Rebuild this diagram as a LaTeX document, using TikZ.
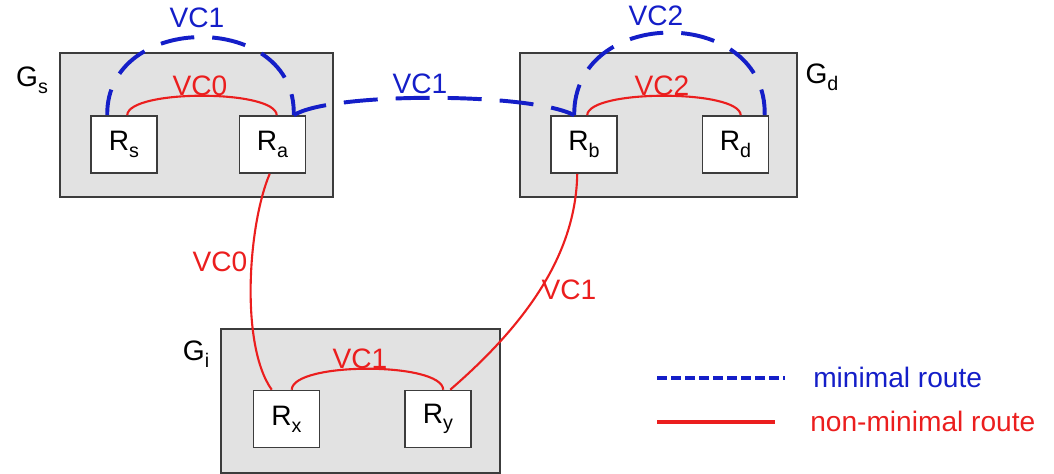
\documentclass[tikz,border=0pt]{standalone}
\usepackage{fontspec}
\setmainfont{Liberation Sans}
\usetikzlibrary{calc}
\definecolor{grpfill}{RGB}{226,226,226}
\definecolor{edgegray}{RGB}{60,60,60}
\definecolor{routeblue}{RGB}{20,30,200}
\definecolor{routered}{RGB}{235,30,30}
\tikzset{
  group/.style={draw=edgegray, line width=1.2pt, fill=grpfill, minimum height=3.6cm, inner sep=0pt},
  router/.style={draw=edgegray, line width=1.1pt, fill=white, minimum width=1.65cm, minimum height=1.425cm, inner sep=0pt, font=\fontsize{20}{22}\selectfont},
  glabel/.style={font=\fontsize{20}{22}\selectfont, inner sep=0pt},
  minroute/.style={draw=routeblue, line width=2.8pt, dash pattern=on 0.85cm off 0.45cm},
  nonmin/.style={draw=routered, line width=1.5pt},
  bluelab/.style={text=routeblue, font=\fontsize{20}{22}\selectfont, inner sep=0pt},
  redlab/.style={text=routered, font=\fontsize{20}{22}\selectfont, inner sep=0pt}
}
\newcommand{\rsub}[2]{R\raisebox{-0.45ex}{\fontsize{14}{16}\selectfont #1}}
\begin{document}
\begin{tikzpicture}[x=0.025cm,y=-0.025cm]
\useasboundingbox (0,0) rectangle (1054,474);
% groups
\node[group, minimum width=6.825cm] (Gs) at (196.5,125) {};
\node[group, minimum width=6.925cm] (Gd) at (658.5,125) {};
\node[group, minimum width=6.975cm] (Gi) at (360.5,401) {};
\node[glabel] (GsL) at (32,80) {G\raisebox{-0.45ex}{\fontsize{14}{16}\selectfont s}};
\node[glabel] (GdL) at (822,77) {G\raisebox{-0.45ex}{\fontsize{14}{16}\selectfont d}};
\node[glabel] (GiL) at (196,354) {G\raisebox{-0.45ex}{\fontsize{14}{16}\selectfont i}};
% routers
\node[router] (Rs) at (124,144.5) {\rsub{s}{}};
\node[router] (Ra) at (272.5,144.5) {\rsub{a}{}};
\node[router] (Rb) at (584,144.5) {\rsub{b}{}};
\node[router] (Rd) at (735.5,144.5) {\rsub{d}{}};
\node[router] (Rx) at (286.5,419) {\rsub{x}{}};
\node[router] (Ry) at (438,419) {\rsub{y}{}};
% red non-minimal routes
\draw[nonmin] ($(Rs.north west)+(37,0)$) .. controls ($(Rs.north west)+(38,-26)$) and ($(Ra.north west)+(37,-26)$) .. ($(Ra.north west)+(38,0)$);
\draw[nonmin] ($(Rb.north west)+(37,0)$) .. controls ($(Rb.north west)+(38,-26)$) and ($(Rd.north west)+(38,-26)$) .. ($(Rd.north west)+(39,0)$);
\draw[nonmin] ($(Rx.north west)+(39,0)$) .. controls ($(Rx.north west)+(40,-28)$) and ($(Ry.north west)+(38,-28)$) .. ($(Ry.north west)+(39,0)$);
\draw[nonmin] ($(Ra.south west)+(31,0)$) .. controls (248,225) and (240,345) .. ($(Rx.north west)+(19,0)$);
\draw[nonmin] ($(Rb.south west)+(27,0)$) .. controls (576,255) and (525,325) .. ($(Ry.north west)+(46,0)$);
% blue minimal routes
\draw[minroute, dash phase=0.2cm] ($(Rs.north west)+(17,0)$) .. controls (106,11) and (297,11) .. ($(Ra.north west)+(55,0)$);
\draw[minroute] ($(Ra.north west)+(55,0)$) .. controls (330,92) and (530,92) .. ($(Rb.north west)+(24,0)$);
\draw[minroute, dash phase=0.2cm] ($(Rd.north west)+(63,0)$) .. controls (767,5) and (573,5) .. ($(Rb.north west)+(24,0)$);
% labels
\node[bluelab] (L1) at (197,18) {VC1};
\node[bluelab] (L2) at (420,84) {VC1};
\node[bluelab] (L3) at (656,16) {VC2};
\node[redlab] (L4) at (200,86) {VC0};
\node[redlab] (L5) at (662,86) {VC2};
\node[redlab] (L6) at (220,262) {VC0};
\node[redlab] (L7) at (569,290) {VC1};
\node[redlab] (L8) at (360,359) {VC1};
% legend
\coordinate (lb1) at (657,378);
\coordinate (lb2) at (785,378);
\coordinate (lr1) at (657,422);
\coordinate (lr2) at (775,422);
\draw[draw=routeblue, line width=2.8pt, dash pattern=on 0.25cm off 0.1cm] (lb1) -- (lb2);
\draw[draw=routered, line width=2.2pt] (lr1) -- (lr2);
\node[bluelab, anchor=west] (LegB) at (813,377) {minimal route};
\node[redlab, anchor=west] (LegR) at (810,421) {non-minimal route};
\end{tikzpicture}
\end{document}
